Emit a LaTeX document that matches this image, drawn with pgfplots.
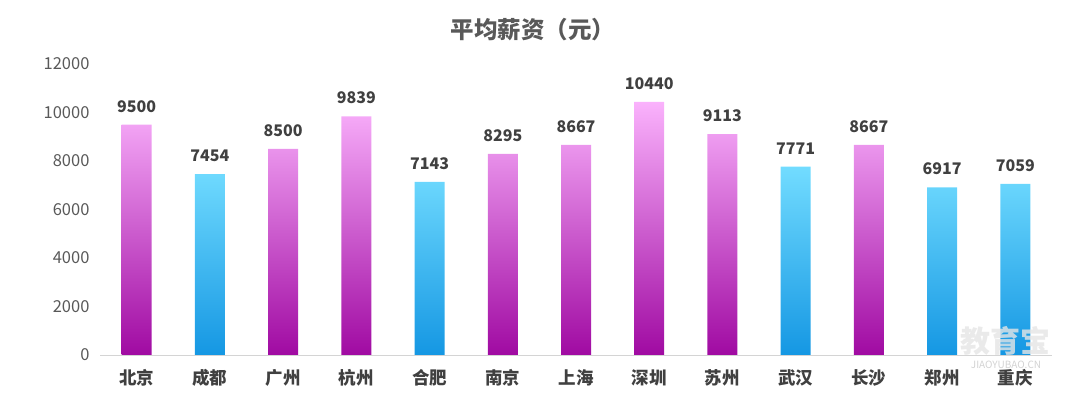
\documentclass[border=0pt]{standalone}
\usepackage{fontspec}
\setmainfont{Noto Sans CJK SC}
\usepackage{pgfplots}
\pgfplotsset{compat=1.18}
\definecolor{pinktop}{HTML}{FAB2FC}
\definecolor{pinkbot}{HTML}{A00AA2}
\definecolor{bluetop}{HTML}{72DCFF}
\definecolor{bluebot}{HTML}{1597E3}
\definecolor{txt}{HTML}{595959}
\definecolor{lbl}{HTML}{404040}
\begin{document}
\begin{tikzpicture}[x=1pt,y=1pt]
\useasboundingbox (0,0) rectangle (1080,398);
\begin{axis}[
  at={(100pt,43pt)}, anchor=south west,
  scale only axis, width=952pt, height=291pt,
  xmin=-0.5, xmax=12.5, ymin=0, ymax=12000,
  axis lines=left,
  x axis line style={draw=black!17, line width=0.8pt, -},
  y axis line style={draw=none},
  major tick length=0pt,
  ytick={0,2000,4000,6000,8000,10000,12000},
  scaled y ticks=false,
  xtick={0,...,12},
  xticklabels={北京,成都,广州,杭州,合肥,南京,上海,深圳,苏州,武汉,长沙,郑州,重庆},
  x tick label style={font=\fontsize{17.5}{19}\selectfont\bfseries, text=lbl, yshift=-11pt},
  y tick label style={font=\fontsize{16.5}{18}\selectfont, text=txt, xshift=-7pt},
  /pgf/number format/.cd, assume math mode=true, 1000 sep={},
  /pgfplots/.cd,
  ybar, bar width=30pt, bar shift=0pt,
  nodes near coords,
  nodes near coords style={font=\fontsize{16}{18}\selectfont\bfseries, text=lbl, anchor=south, inner sep=0pt, yshift=12pt},
  clip=false,
]
\addplot[draw=none, top color=pinktop, bottom color=pinkbot] coordinates {
  (0,9500) (2,8500) (3,9839) (5,8295) (6,8667) (7,10440) (8,9113) (10,8667)};
\addplot[draw=none, top color=bluetop, bottom color=bluebot] coordinates {
  (1,7454) (4,7143) (9,7771) (11,6917) (12,7059)};
\end{axis}
\node[font=\fontsize{23.5}{26}\selectfont\bfseries, text=txt] at (533,368) {平均薪资（元）};
\node[font=\fontsize{30}{32}\selectfont\bfseries, text=black!10, opacity=0.8] at (1005,57) {教育宝};
\node[font=\fontsize{10}{11}\selectfont, text=black!22, opacity=0.8] at (1006,33) {JIAOYUBAO.CN};
\end{tikzpicture}
\end{document}
